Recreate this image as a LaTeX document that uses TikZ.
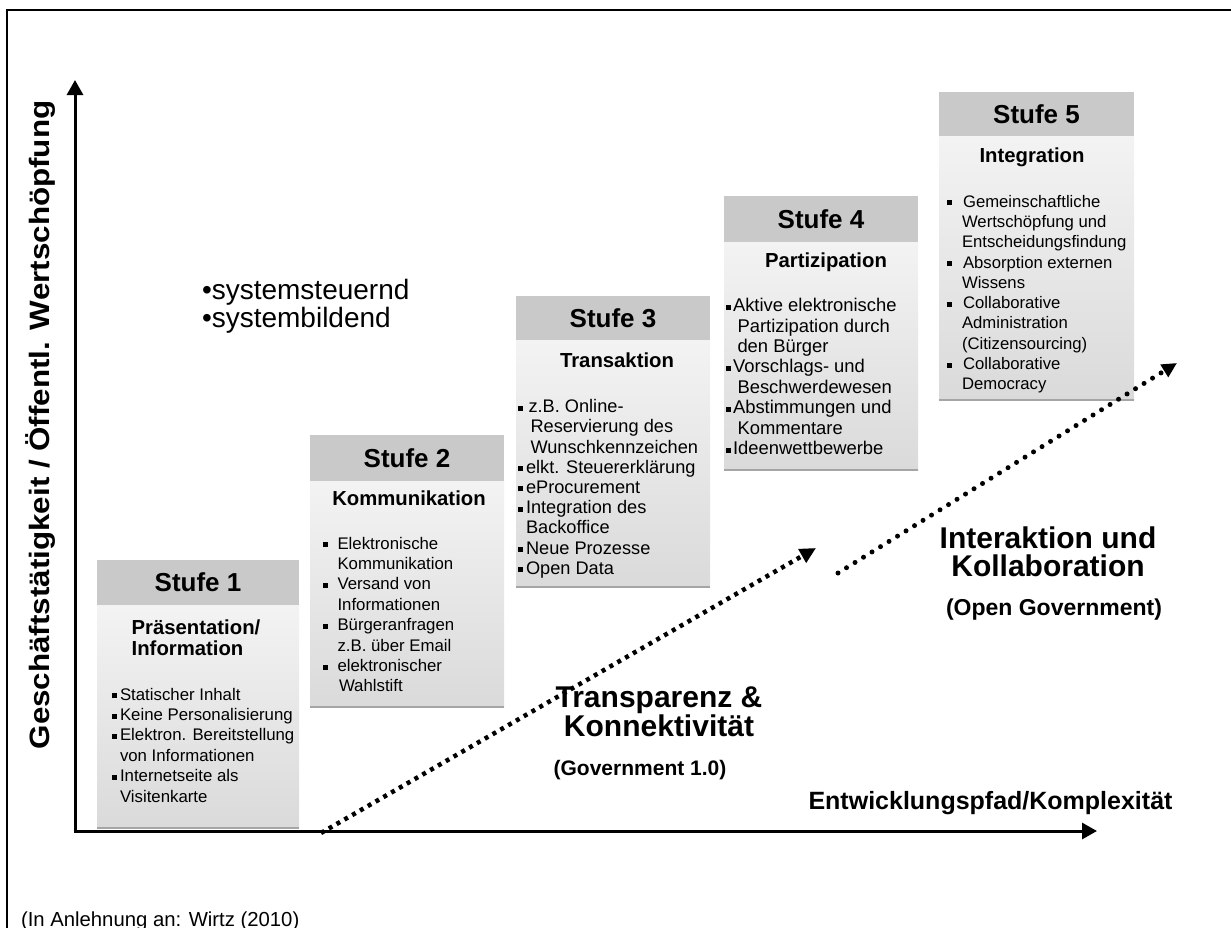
\documentclass[tikz,border=0pt]{standalone}
\usepackage{fontspec}
\setmainfont{Liberation Sans}
\usepackage{graphicx}
\usepackage{tikz}
\usetikzlibrary{arrows.meta}
\definecolor{headgray}{RGB}{201,201,201}
\definecolor{bodytop}{RGB}{243,243,243}
\definecolor{bodybot}{RGB}{218,218,218}
\definecolor{shadegray}{RGB}{165,165,165}

\newcommand{\sq}{\rule[2pt]{5pt}{5pt}}
\newcommand{\itm}[2]{\makebox[#1][l]{\sq}#2}
\newcommand{\cnt}[2]{\hspace*{#1}#2}

\begin{document}
\begin{tikzpicture}[x=1pt, y=-1pt, every node/.style={inner sep=0pt, outer sep=0pt},
	head/.style={fill=headgray, minimum height=45pt, font=\bfseries\fontsize{26}{28}\selectfont},
	body/.style={anchor=north, top color=bodytop, bottom color=bodybot},
	ttl/.style={align=left, font=\bfseries\fontsize{20.3}{21}\selectfont},
	lst/.style={anchor=north west, align=left},
	big/.style={align=center, font=\bfseries\fontsize{30}{28.5}\selectfont},
	axis/.style={line width=3pt},
	shadeline/.style={shadegray, line width=2.5pt},
	dotsq/.style={line width=4.5pt, dash pattern=on 4pt off 5pt, -{Triangle[length=16pt, width=15pt]}},
	dotrd/.style={line width=5pt, line cap=round, dash pattern=on 0pt off 10pt, -{Triangle[length=15pt, width=14pt]}}]
	\useasboundingbox (0,0) rectangle (1231,927);
	\draw[line width=1.5pt] (7,960) -- (7,10) -- (1260,10);

	% axes
	\coordinate (ytip) at (75,80);
	\coordinate (o) at (75,831);
	\coordinate (xtip) at (1097,831);
	\draw[axis, {Triangle[length=15pt, width=16pt]}-{Triangle[length=15pt, width=16pt]}] (ytip) -- (o) -- (xtip);
	\node[rotate=90, font=\bfseries\fontsize{28}{30}\selectfont] (ylab) at (41,425) {\scalebox{1.12}[1]{Geschäftstätigkeit / Öffentl. Wertschöpfung}};
	\node[font=\bfseries\fontsize{25}{27}\selectfont] (xlab) at (990.5,803) {Entwicklungspfad/Komplexität};

	% Stufe 1
	\node[head, minimum width=202pt] (h1) at (198,582.5) {Stufe 1};
	\node[body, minimum width=202pt, minimum height=223pt] (b1) at (h1.south) {};
	\draw[shadeline] (b1.south west) -- (b1.south east);
	\node[ttl] (t1) at (196,637.5) {Präsentation/\\Information};
	\node[lst, font=\fontsize{16.8}{20.4}\selectfont] (l1) at (111.5,688) {\itm{8.5pt}{Statischer Inhalt}\\
		\itm{8.5pt}{Keine Personalisierung}\\
		\itm{8.5pt}{Elektron. Bereitstellung}\\
		\cnt{8.5pt}{von Informationen}\\
		\itm{8.5pt}{Internetseite als}\\
		\cnt{8.5pt}{Visitenkarte}};

	% Stufe 2
	\node[head, minimum width=194pt, minimum height=46pt] (h2) at (407,458) {Stufe 2};
	\node[body, minimum width=194pt, minimum height=226pt] (b2) at (h2.south) {};
	\draw[shadeline] (b2.south west) -- (b2.south east);
	\node[ttl] (t2) at (409,498) {Kommunikation};
	\node[lst, font=\fontsize{16.8}{20.4}\selectfont] (l2) at (322.5,537) {\itm{15pt}{Elektronische}\\
		\cnt{15pt}{Kommunikation}\\
		\itm{15pt}{Versand von}\\
		\cnt{15pt}{Informationen}\\
		\itm{15pt}{Bürgeranfragen}\\
		\cnt{15pt}{z.B. über Email}\\
		\itm{15pt}{elektronischer}\\
		\cnt{16.5pt}{Wahlstift}};

	% Stufe 3
	\node[head, minimum width=194pt, minimum height=44pt] (h3) at (613,318) {Stufe 3};
	\node[body, minimum width=194pt, minimum height=247pt] (b3) at (h3.south) {};
	\draw[shadeline] (b3.south west) -- (b3.south east);
	\node[ttl] (t3) at (617,360) {Transaktion};
	\node[lst, font=\fontsize{18.2}{20.2}\selectfont] (l3) at (517.5,399.5) {\itm{11pt}{z.B. Online-}\\
		\cnt{13pt}{Reservierung des}\\
		\cnt{13pt}{Wunschkennzeichen}\\
		\itm{8.5pt}{elkt. Steuererklärung}\\
		\itm{8.5pt}{eProcurement}\\
		\itm{8.5pt}{Integration des}\\
		\cnt{8.5pt}{Backoffice}\\
		\itm{8.5pt}{Neue Prozesse}\\
		\itm{8.5pt}{Open Data}};

	% Stufe 4
	\node[head, minimum width=194pt, minimum height=46pt] (h4) at (821,219) {Stufe 4};
	\node[body, minimum width=194pt, minimum height=228pt] (b4) at (h4.south) {};
	\draw[shadeline] (b4.south west) -- (b4.south east);
	\node[ttl] (t4) at (826,262) {Partizipation};
	\node[lst, font=\fontsize{18.4}{20.4}\selectfont] (l4) at (725.5,298.4) {\itm{7.5pt}{Aktive elektronische}\\
		\cnt{12pt}{Partizipation durch}\\
		\cnt{12pt}{den Bürger}\\
		\itm{7.5pt}{Vorschlags- und}\\
		\cnt{12pt}{Beschwerdewesen}\\
		\itm{7.5pt}{Abstimmungen und}\\
		\cnt{12pt}{Kommentare}\\
		\itm{7.5pt}{Ideenwettbewerbe}};

	% Stufe 5
	\node[head, minimum width=195pt, minimum height=44pt] (h5) at (1036.5,114) {Stufe 5};
	\node[body, minimum width=195pt, minimum height=264pt] (b5) at (h5.south) {};
	\draw[shadeline] (b5.south west) -- (b5.south east);
	\node[ttl] (t5) at (1032,157) {Integration};
	\node[lst, font=\fontsize{16.7}{20.3}\selectfont] (l5) at (947,195) {\itm{16pt}{Gemeinschaftliche}\\
		\cnt{15pt}{Wertschöpfung und}\\
		\cnt{15pt}{Entscheidungsfindung}\\
		\itm{16pt}{Absorption externen}\\
		\cnt{15pt}{Wissens}\\
		\itm{16pt}{Collaborative}\\
		\cnt{15pt}{Administration}\\
		\cnt{15pt}{(Citizensourcing)}\\
		\itm{16pt}{Collaborative}\\
		\cnt{15pt}{Democracy}};

	\node[anchor=west, align=left, font=\fontsize{28}{28}\selectfont] (sys) at (202,306) {•systemsteuernd\\•systembildend};

	% paths
	\coordinate (g1a) at (321,833);
	\coordinate (g1b) at (816,548);
	\coordinate (g2a) at (838,573);
	\coordinate (g2b) at (1177,363);
	\draw[dotsq] (g1a) -- (g1b);
	\draw[dotrd] (g2a) -- (g2b);

	\node[big] (tk) at (659,712) {Transparenz \&\\Konnektivität};
	\node[font=\bfseries\fontsize{21}{23}\selectfont] (gov) at (640,770) {(Government 1.0)};
	\node[big] (ik) at (1048,552) {Interaktion und\\Kollaboration};
	\node[font=\bfseries\fontsize{23}{25}\selectfont] (ogov) at (1054,610) {(Open Government)};

	\node[anchor=base west, font=\fontsize{20.3}{22}\selectfont] (src) at (21,926) {(In Anlehnung an: Wirtz (2010)};
\end{tikzpicture}
\end{document}
